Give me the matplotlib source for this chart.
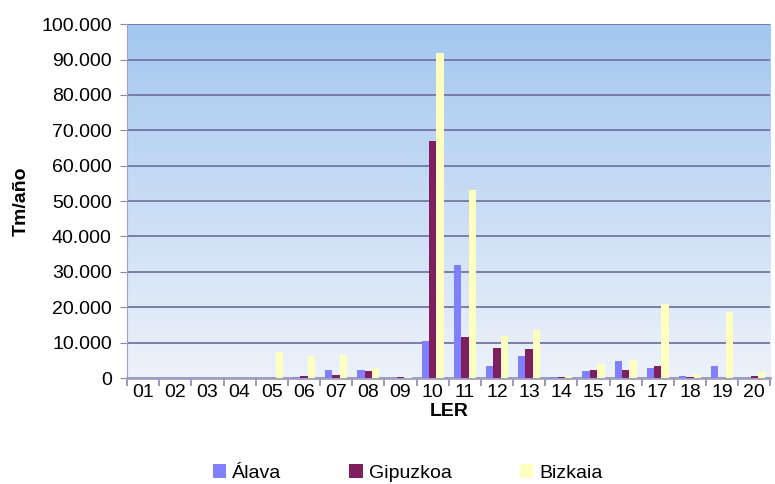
import numpy as np
import matplotlib.pyplot as plt
from matplotlib.ticker import FuncFormatter, MultipleLocator

plt.rcParams['font.family'] = ['Liberation Sans', 'DejaVu Sans']

LER = ['01', '02', '03', '04', '05', '06', '07', '08', '09', '10',
       '11', '12', '13', '14', '15', '16', '17', '18', '19', '20']
SERIES = ['Álava', 'Gipuzkoa', 'Bizkaia']

ALAVA = [0, 0, 0, 0, 0, 400, 2400, 2400, 100, 10400,
         32000, 3500, 6100, 400, 2100, 4700, 2700, 700, 3500, 100]
GIPUZKOA = [0, 0, 0, 0, 0, 700, 950, 2100, 400, 67000,
            11500, 8400, 8100, 400, 2400, 2400, 3500, 400, 100, 700]
BIZKAIA = [0, 0, 0, 0, 7300, 6100, 6400, 2700, 300, 91800,
           53200, 11900, 13500, 600, 3900, 5200, 20900, 1000, 18700, 1800]

COLORS = ['#8080FF', '#7F1F5F', '#FFFFC0']


def thousands(v, pos):
    """ Formato con punto de miles """
    if v == 0:
        return '0'
    return '{:,.0f}'.format(v).replace(',', '.')


fig = plt.figure(figsize=(7.75, 4.84), dpi=100)
ax = fig.add_axes([0.164, 0.219, 0.830, 0.731])

# fondo degradado
grad = np.linspace(1, 0, 256).reshape(-1, 1)
top = np.array([0.64, 0.78, 0.94])
bottom = np.array([0.93, 0.95, 0.98])
img = bottom + (top - bottom) * grad[..., None]
ax.imshow(img.reshape(256, 1, 3), extent=[0, 1, 0, 1], transform=ax.transAxes,
          aspect='auto', zorder=0)

x = np.arange(len(LER))
w = 0.23
for i, (vals, name) in enumerate(zip([ALAVA, GIPUZKOA, BIZKAIA], SERIES)):
    ax.bar(x + (i - 1) * w, vals, width=w, color=COLORS[i], label=name, zorder=3)

ax.set_xlim(-0.5, len(LER) - 0.5)
ax.set_ylim(0, 100000)
ax.yaxis.set_major_locator(MultipleLocator(10000))
ax.yaxis.set_major_formatter(FuncFormatter(thousands))
ax.grid(axis='y', color='#7474A4', lw=1.3, zorder=1)

ax.set_xticks(x)
ax.set_xticklabels(LER)
ax.set_xticks(np.arange(-0.5, len(LER)), minor=True)
ax.tick_params(axis='x', which='major', length=0, labelsize=14, pad=4)
ax.tick_params(axis='x', which='minor', length=6, color='#8888AA', width=1.2)
ax.tick_params(axis='y', length=5, color='#8888AA', labelsize=14, pad=6)

for s in ['top', 'right']:
    ax.spines[s].set_visible(False)
ax.spines['left'].set_color('#A0A0C0')
ax.spines['bottom'].set_color('#A0A0C0')
ax.spines['bottom'].set_linewidth(2)

ax.set_xlabel('LER', fontsize=14, fontweight='bold', labelpad=2)
ax.set_ylabel('Tm/año', fontsize=14, fontweight='bold', labelpad=8)

ax.legend(loc='lower center', bbox_to_anchor=(0.436, -0.343), ncol=3, frameon=False,
          fontsize=14, handlelength=0.7, handleheight=0.7, handletextpad=0.3,
          columnspacing=3.5)

fig.savefig('out.png', dpi=100)
